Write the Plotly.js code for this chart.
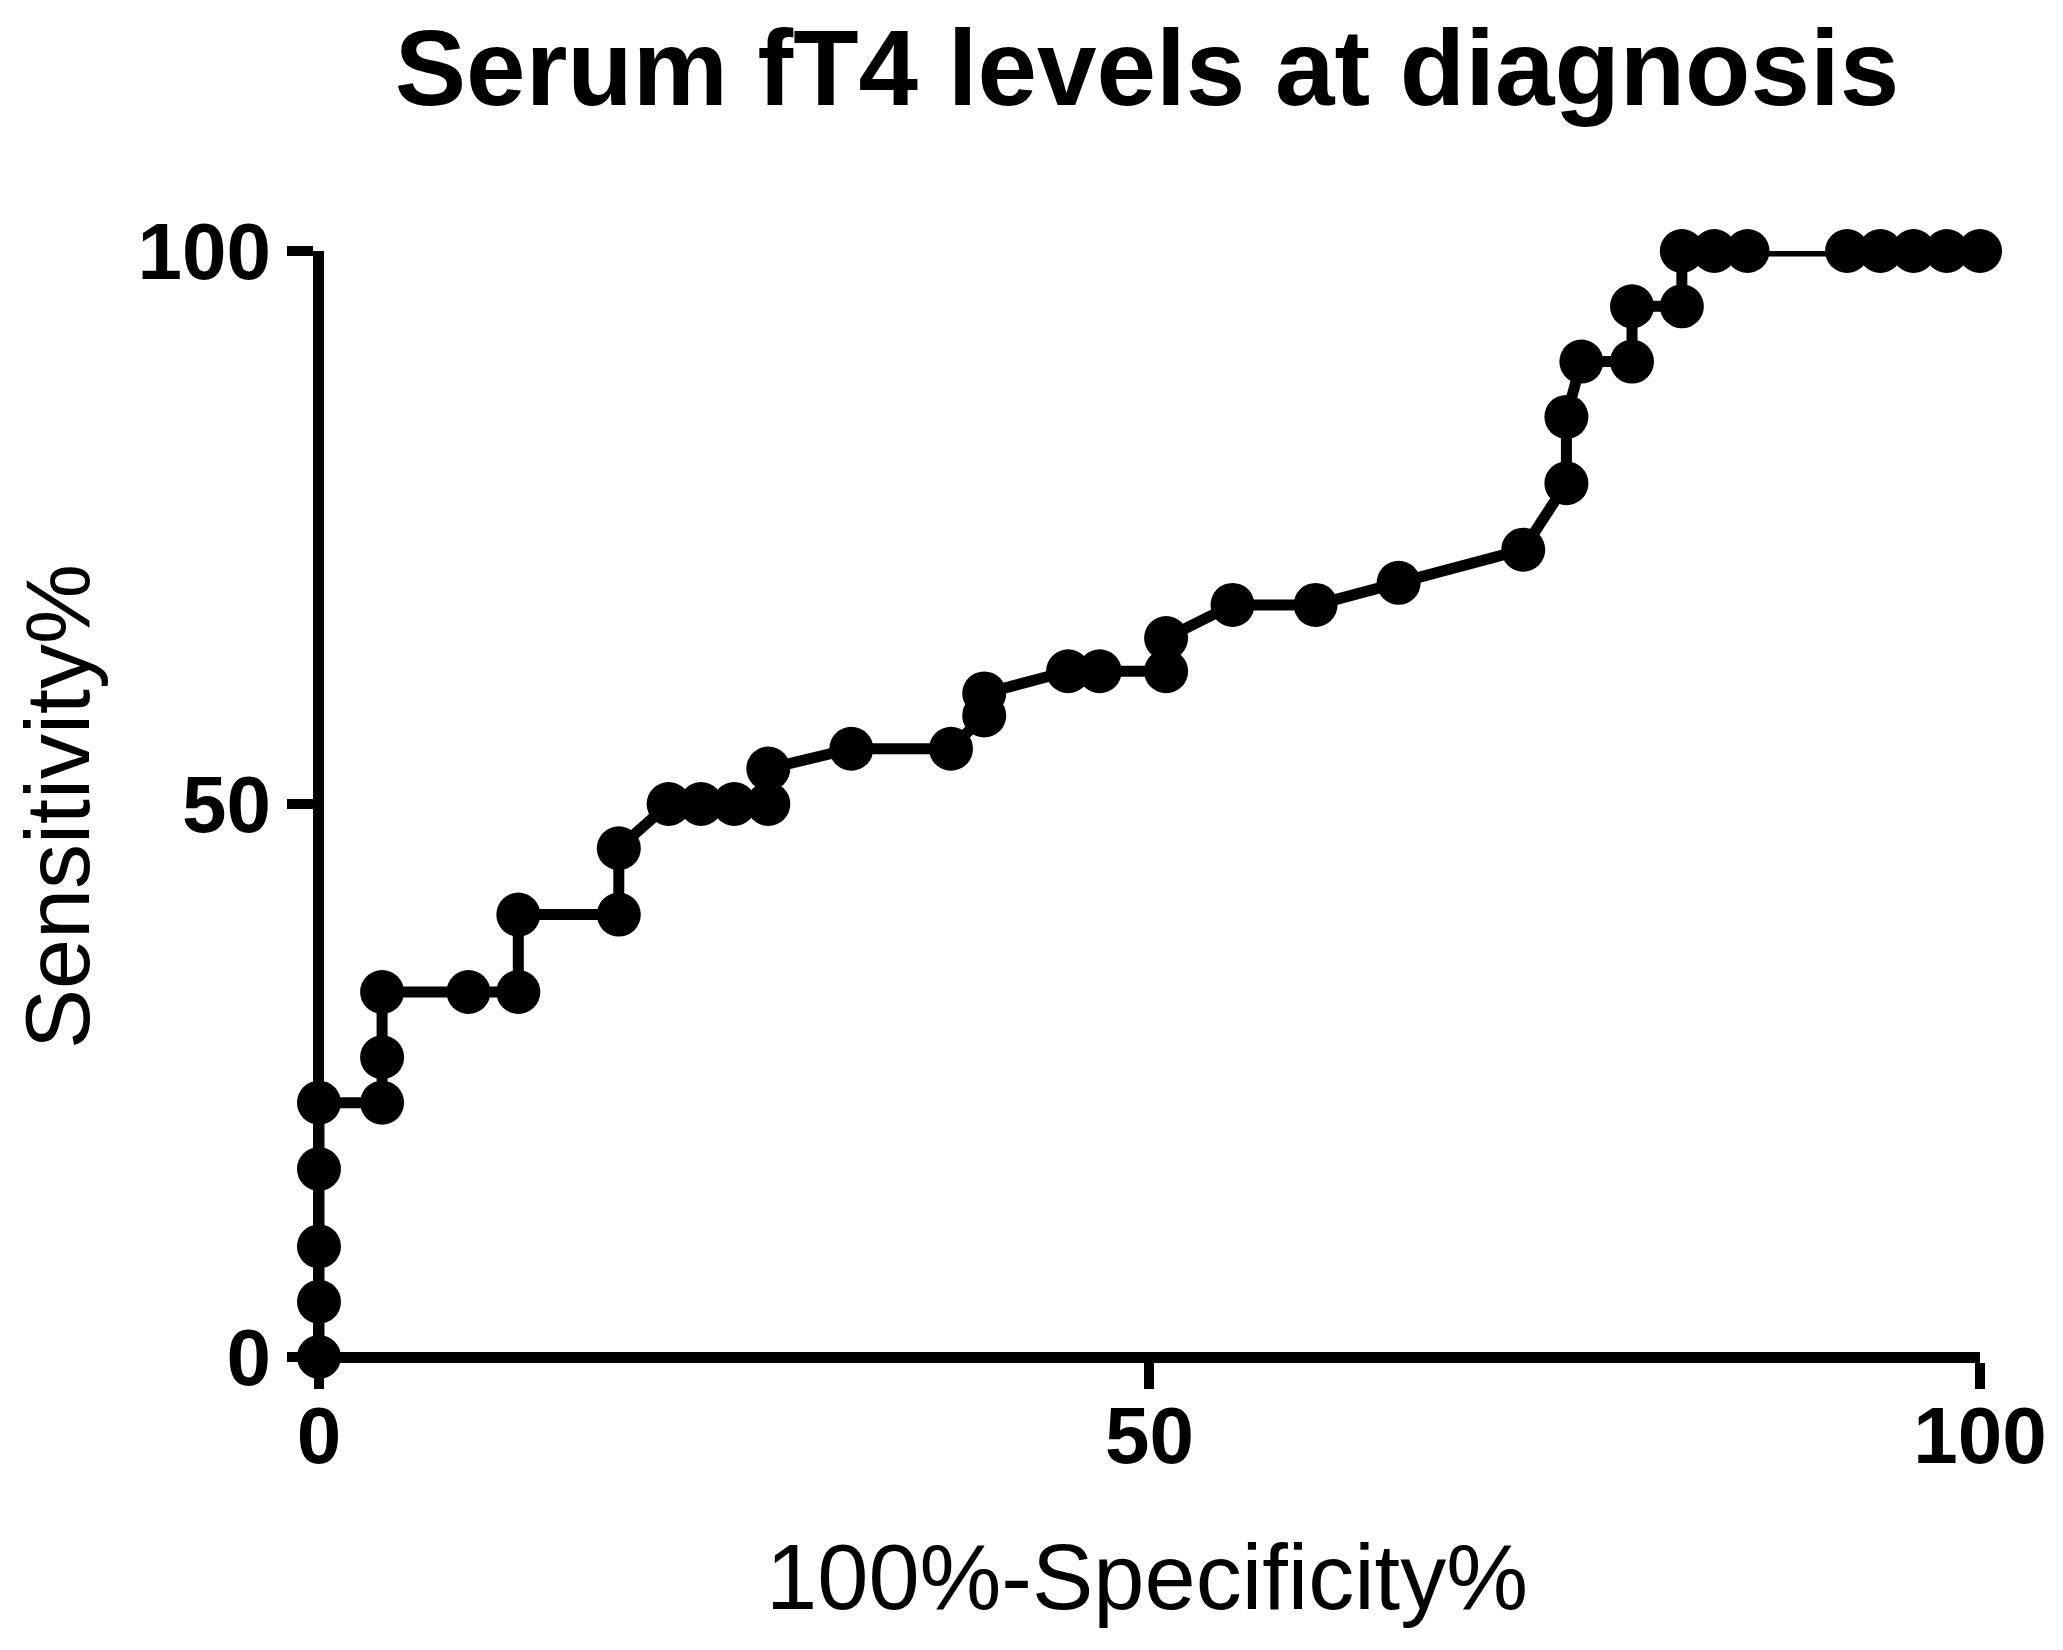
<!DOCTYPE html>
<html>
<head>
<meta charset="utf-8">
<script src="https://cdn.plot.ly/plotly-3.0.1.min.js"></script>
<style>html,body{margin:0;padding:0;background:#fff;}#chart{width:2063px;height:1650px;}</style>
</head>
<body>
<div id="chart"></div>
<script>
// 100% - Specificity% (x) and Sensitivity% (y) of the ROC curve
const falsePositiveRate = [0,0,0,0,0,3.8,3.8,3.8,9,12,12,18.05,18.05,21.05,23,25,27.05,27.05,32.05,38.05,40.05,40.05,45.1,47,51,51,55,60,65,72.5,75.1,75.1,76,79.05,79.05,82.05,82.05,84,86,92,94,96,98,100];
const sensitivity = [0,5,10,17,23,23,27.1,33,33,33,40,40,46,50,50,50,50,53.2,55,55,58,60,62,62,62,65,68,68,70,73,79,85,90,90,95,95,100,100,100,100,100,100,100,100];
const xTicks = [0,50,100];
const yTicks = [0,50,100];
const chartTitle = 'Serum fT4 levels at diagnosis';
const xTitle = '100%-Specificity%';
const yTitle = 'Sensitivity%';

const trace = {
  x: falsePositiveRate,
  y: sensitivity,
  type: 'scatter',
  mode: 'lines+markers',
  line: {color: '#000', width: 11},
  marker: {color: '#000', size: 44},
  cliponaxis: false,
  hoverinfo: 'skip'
};

const fam = 'Liberation Sans, Arial, sans-serif';
const tickFont = {family: fam, size: 80, color: '#000', weight: 700};
const layout = {
  width: 2063, height: 1650,
  margin: {l: 314, r: 83, t: 251, b: 288, pad: 0},
  paper_bgcolor: '#fff', plot_bgcolor: '#fff',
  showlegend: false,
  title: {
    text: chartTitle,
    font: {family: fam, size: 107, color: '#000', weight: 700},
    xref: 'paper', x: 0.5, xanchor: 'center',
    yref: 'container', y: 1 - 68/1650, yanchor: 'middle'
  },
  xaxis: {
    range: [-0.3, 100],
    tickvals: xTicks, ticktext: xTicks.map(String),
    ticks: 'outside', ticklen: 26, tickwidth: 10, tickcolor: '#000',
    showline: false,
    zeroline: true, zerolinewidth: 11, zerolinecolor: '#000',
    showgrid: false,
    tickfont: tickFont,
    ticklabelstandoff: -22,
    title: {text: xTitle, font: {family: fam, size: 92, color: '#000'}, standoff: 65}
  },
  yaxis: {
    range: [-0.45, 100],
    tickvals: yTicks, ticktext: yTicks.map(String),
    ticks: 'outside', ticklen: 26, tickwidth: 10, tickcolor: '#000',
    showline: false,
    zeroline: true, zerolinewidth: 11, zerolinecolor: '#000',
    showgrid: false,
    tickfont: tickFont,
    title: {text: yTitle, font: {family: fam, size: 90, color: '#000'}, standoff: 18}
  }
};

Plotly.newPlot('chart', [trace], layout, {displayModeBar: false, staticPlot: true});
</script>
</body>
</html>
